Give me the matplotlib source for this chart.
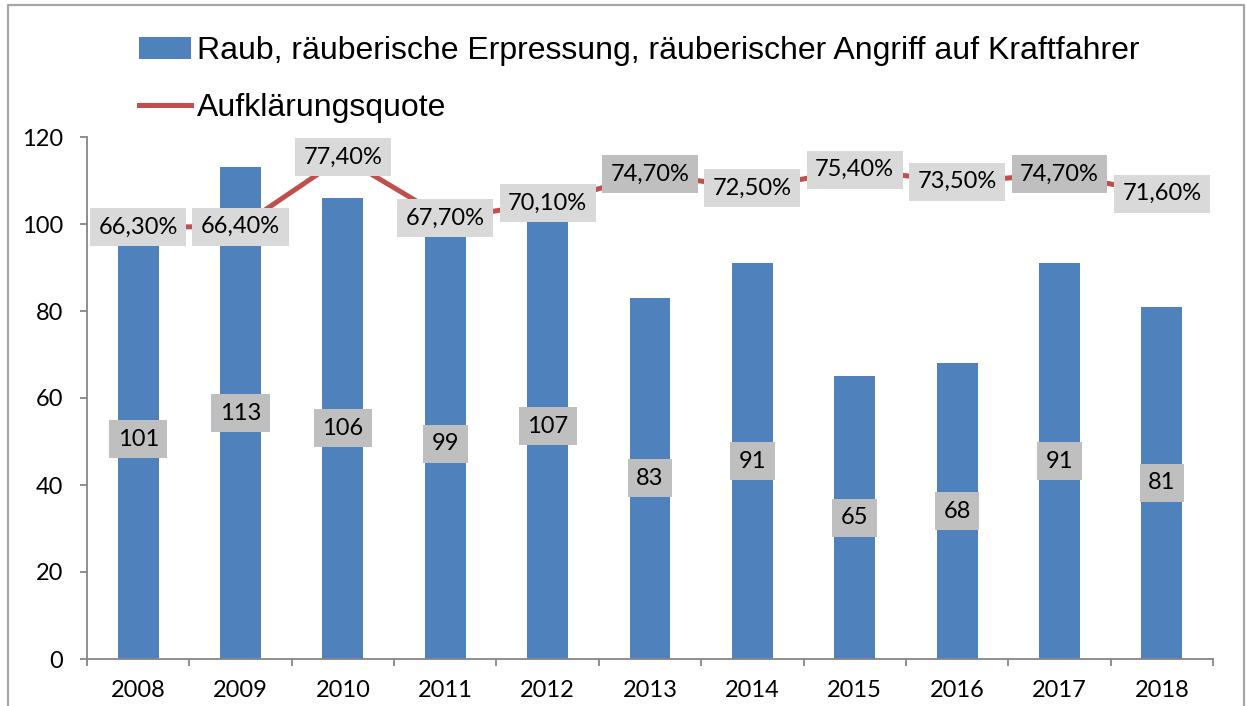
import matplotlib
matplotlib.use("Agg")
import matplotlib.pyplot as plt
from matplotlib.lines import Line2D
from matplotlib.patches import Patch

years = ["2008", "2009", "2010", "2011", "2012", "2013", "2014", "2015", "2016", "2017", "2018"]
faelle = [101, 113, 106, 99, 107, 83, 91, 65, 68, 91, 81]
quote = [66.3, 66.4, 77.4, 67.7, 70.1, 74.7, 72.5, 75.4, 73.5, 74.7, 71.6]
dark_boxes = ["2013", "2017"]

blue = "#4F81BD"
red = "#C0504D"
axis_grey = "#868686"
num_font = "Lato"

fig = plt.figure(figsize=(12.47, 7.06), dpi=100)
ax = fig.add_axes([87/1247, 47/706, (1213-87)/1247, (659-137)/706])
ax2 = ax.twinx()

x = list(range(len(years)))
ax.bar(x, faelle, width=0.4, color=blue, zorder=2)
ax.set_xlim(-0.5, len(years) - 0.5)
ax.set_ylim(0, 120)
ax.set_yticks(range(0, 121, 20))
ax.set_xticks(x)
ax.set_xticklabels(years)
ax.set_xticks([i - 0.5 for i in range(len(years) + 1)], minor=True)

for s in ["top", "right"]:
    ax.spines[s].set_visible(False)
    ax2.spines[s].set_visible(False)
ax2.spines["left"].set_visible(False)
ax2.spines["bottom"].set_visible(False)
for s in ["left", "bottom"]:
    ax.spines[s].set_color(axis_grey)
    ax.spines[s].set_linewidth(1.3)
ax.tick_params(axis="y", length=5, width=1.3, color=axis_grey, pad=12, labelsize=17)
ax.tick_params(axis="x", which="major", length=0, pad=15, labelsize=17)
ax.tick_params(axis="x", which="minor", length=5, width=1.3, color=axis_grey)
for lab in ax.get_xticklabels() + ax.get_yticklabels():
    lab.set_fontfamily(num_font)

for xi, v in zip(x, faelle):
    ax.text(xi, v / 2, str(v), ha="center", va="center", fontsize=17, family=num_font,
            zorder=5, bbox=dict(boxstyle="square,pad=0.36", fc="#BFBFBF", ec="none"))

ax2.plot(x, quote, color=red, lw=3.6, zorder=3)
ax2.set_ylim(-2.2, 80.6)
ax2.set_yticks([])
for xi, p, yr in zip(x, quote, years):
    fc = "#BFBFBF" if yr in dark_boxes else "#D9D9D9"
    ax2.text(xi, p, ("%.2f%%" % p).replace(".", ","), ha="center", va="center", fontsize=17,
             family=num_font, zorder=5, bbox=dict(boxstyle="square,pad=0.36", fc=fc, ec="none"))

handles = [Patch(facecolor=blue, edgecolor="none"), Line2D([0], [0], color=red, lw=3.6)]
labels = ["Raub, räuberische Erpressung, räuberischer Angriff auf Kraftfahrer", "Aufklärungsquote"]
fig.legend(handles, labels, loc="upper left", bbox_to_anchor=(139/1247, 1 - 36/706),
           frameon=False, borderpad=0, borderaxespad=0, handlelength=1.63, handletextpad=0.19,
           labelspacing=0.85, prop={"family": "Liberation Sans", "size": 23})

# chart frame
fig.add_artist(Line2D([8/1247, 8/1247, 1244/1247, 1244/1247], [0, 1 - 5/706, 1 - 5/706, 0],
                      transform=fig.transFigure, color="#A6A6A6", lw=1.6))

fig.savefig("out.png", dpi=100)
